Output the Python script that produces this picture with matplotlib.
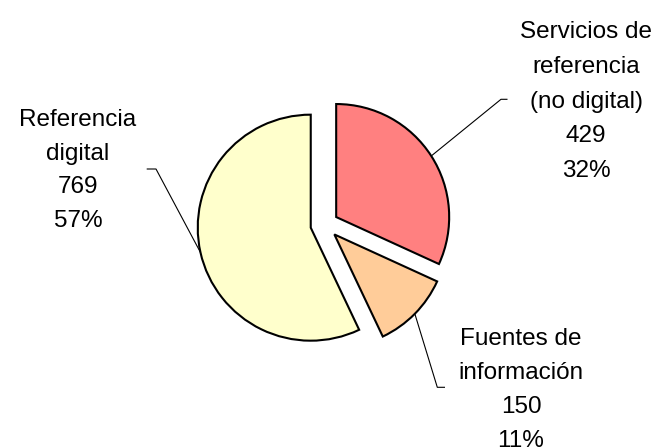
import numpy as np
import matplotlib
matplotlib.use("Agg")
import matplotlib.pyplot as plt

plt.rcParams['font.family'] = ['Liberation Sans', 'DejaVu Sans']

# Data
categories = ["Servicios de\nreferencia\n(no digital)", "Fuentes de\ninformación", "Referencia\ndigital"]
values = [429, 150, 769]
colors = ["#FF8080", "#FFCC99", "#FFFFCC"]

W, H = 663, 448
fig = plt.figure(figsize=(W / 100, H / 100), dpi=100)
ax = fig.add_axes([0, 0, 1, 1])

center = (324.4, H - 224.6)
radius = 113
# matplotlib's explode offset is in data units (pixels here)
explode = [14, 14, 14]

wedges, _ = ax.pie(values, colors=colors, startangle=90, counterclock=False,
                   explode=explode, center=center, radius=radius,
                   wedgeprops=dict(edgecolor="black", linewidth=1.5))
ax.set_xlim(0, W)
ax.set_ylim(0, H)
ax.set_aspect('equal')
ax.axis('off')

total = sum(values)
# label layout: (center x, first baseline y in pixels, line spacing), elbow, end of leader
layout = [
    dict(x=586, y0=38, dy=34.75, elbow=(501, 99.3), end=(507.5, 99.3)),
    dict(x=521, y0=345, dy=34.0, elbow=(437.3, 387.3), end=(445, 387.3)),
    dict(x=78, y0=126, dy=33.7, elbow=(156, 169), end=(146.7, 169)),
]

for w, cat, v, lay in zip(wedges, categories, values, layout):
    lines = cat.split("\n") + [f"{v}", f"{round(100 * v / total):.0f}%"]
    for i, ln in enumerate(lines):
        ax.text(lay["x"], H - (lay["y0"] + i * lay["dy"]), ln, ha="center", va="baseline",
                fontsize=17.5, color="black")
    mid = np.deg2rad((w.theta1 + w.theta2) / 2)
    cx, cy = w.center
    ax_pt = (cx + w.r * np.cos(mid), cy + w.r * np.sin(mid))
    ex, ey = lay["elbow"]
    nx, ny = lay["end"]
    ax.plot([ax_pt[0], ex, nx], [ax_pt[1], H - ey, H - ny], color="black", linewidth=0.8,
            solid_capstyle="butt", zorder=0)

fig.savefig("out.png", dpi=100, facecolor="white")
